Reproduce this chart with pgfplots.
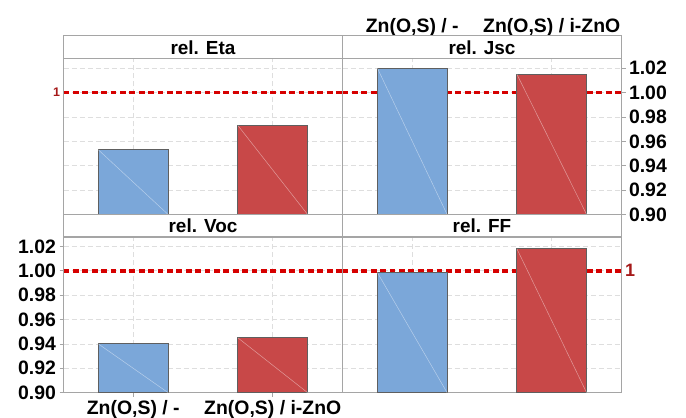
\documentclass[border=0pt]{standalone}
\usepackage{fontspec}
\setmainfont{Liberation Sans}
\usepackage{pgfplots}
\pgfplotsset{compat=1.18}
\definecolor{barblue}{RGB}{123,167,217}
\definecolor{barred}{RGB}{200,72,72}
\definecolor{bardraw}{RGB}{95,95,95}
\definecolor{refred}{RGB}{214,0,0}
\definecolor{lblred}{RGB}{165,25,25}
\definecolor{framec}{RGB}{165,165,165}
\definecolor{gridc}{RGB}{222,222,222}
\newcommand{\fnt}{\fontsize{19.5}{21}\selectfont\bfseries}
\pgfplotsset{
 panel/.style={
  scale only axis, width=279bp, height=155.5bp,
  anchor=south west,
  xmin=-0.5, xmax=1.5, ymin=0.9, ymax=1.0275,
  xtick={0,1}, xticklabels={},
  ytick={0.90,0.92,0.94,0.96,0.98,1.00,1.02},
  yticklabels={},
  grid=major,
  major grid style={gridc, line width=0.8bp, dash pattern=on 5bp off 3bp},
  axis line style={framec, line width=1bp},
  tick style={framec, line width=0.8bp},
  tick align=outside,
  major tick length=0pt,
  title style={at={(0.5,1)}, anchor=south, yshift=-6pt, draw=framec, line width=1bp, fill=white,
    minimum width=279bp, minimum height=22.5bp, inner sep=0pt, font=\fontsize{19}{21}\selectfont\bfseries},
  tick label style={font=\fnt},
  /pgf/number format/assume math mode=true,
  /pgf/number format/fixed,
  /pgf/number format/fixed zerofill,
  /pgf/number format/precision=2,
 },
 refline/.style={sharp plot, refred, line width=3.6bp, dash pattern=on 5.8bp off 3.6bp, forget plot},
 bblue/.style={ybar, bar width=0.5, bar shift=0pt, fill=barblue, draw=bardraw, line width=0.9bp},
 bred/.style={ybar, bar width=0.5, bar shift=0pt, fill=barred, draw=bardraw, line width=0.9bp},
 diag/.style={sharp plot, white, opacity=0.45, line width=0.5bp, forget plot},
}
\begin{document}
\begin{tikzpicture}
\path[use as bounding box] (0,0) rectangle (686bp,418bp);

% top-left: rel. Eta
\begin{axis}[panel, at={(63.5bp,203.5bp)}, title={rel. Eta},
  extra y ticks={1}, extra y tick labels={1},
  extra y tick style={grid=none, major tick length=0pt,
    tick label style={text=lblred, font=\fontsize{12.5}{14}\selectfont\bfseries}}]
\addplot[refline] coordinates {(-0.5,1) (1.5,1)};
\addplot[bblue] coordinates {(0,0.953)};
\addplot[bred] coordinates {(1,0.973)};
\addplot[diag] coordinates {(-0.25,0.953) (0.25,0.9)};
\addplot[diag] coordinates {(0.75,0.973) (1.25,0.9)};
\end{axis}

% top-right: rel. Jsc
\begin{axis}[panel, at={(342.5bp,203.5bp)}, title={rel. Jsc},
  ytick pos=right, yticklabel pos=right, major tick length=4bp,
  yticklabels={0.90,0.92,0.94,0.96,0.98,1.00,1.02},
  xtick pos=top, xticklabel pos=top,
  xticklabels={{Zn(O,S) / -},{Zn(O,S) / i-ZnO}},
  xticklabel style={yshift=14.5bp}]
\addplot[refline] coordinates {(-0.5,1) (1.5,1)};
\addplot[bblue] coordinates {(0,1.020)};
\addplot[bred] coordinates {(1,1.015)};
\addplot[diag] coordinates {(-0.25,1.020) (0.25,0.9)};
\addplot[diag] coordinates {(0.75,1.015) (1.25,0.9)};
\end{axis}

% bottom-left: rel. Voc
\begin{axis}[panel, at={(63.5bp,25.3bp)}, title={rel. Voc},
  ytick pos=left, xtick pos=bottom, major tick length=4bp,
  yticklabels={0.90,0.92,0.94,0.96,0.98,1.00,1.02},
  xticklabels={{Zn(O,S) / -},{Zn(O,S) / i-ZnO}}]
\addplot[refline] coordinates {(-0.5,1) (1.5,1)};
\addplot[bblue] coordinates {(0,0.940)};
\addplot[bred] coordinates {(1,0.945)};
\addplot[diag] coordinates {(-0.25,0.940) (0.25,0.9)};
\addplot[diag] coordinates {(0.75,0.945) (1.25,0.9)};
\end{axis}

% bottom-right: rel. FF
\begin{axis}[panel, at={(342.5bp,25.3bp)}, title={rel. FF},
  yticklabel pos=right,
  extra y ticks={1}, extra y tick labels={1},
  extra y tick style={grid=none, major tick length=0pt,
    tick label style={text=lblred, font=\fontsize{18}{20}\selectfont\bfseries}}]
\addplot[refline] coordinates {(-0.5,1) (1.5,1)};
\addplot[bblue] coordinates {(0,0.9985)};
\addplot[bred] coordinates {(1,1.018)};
\addplot[diag] coordinates {(-0.25,0.9985) (0.25,0.9)};
\addplot[diag] coordinates {(0.75,1.018) (1.25,0.9)};
\end{axis}
\end{tikzpicture}
\end{document}
